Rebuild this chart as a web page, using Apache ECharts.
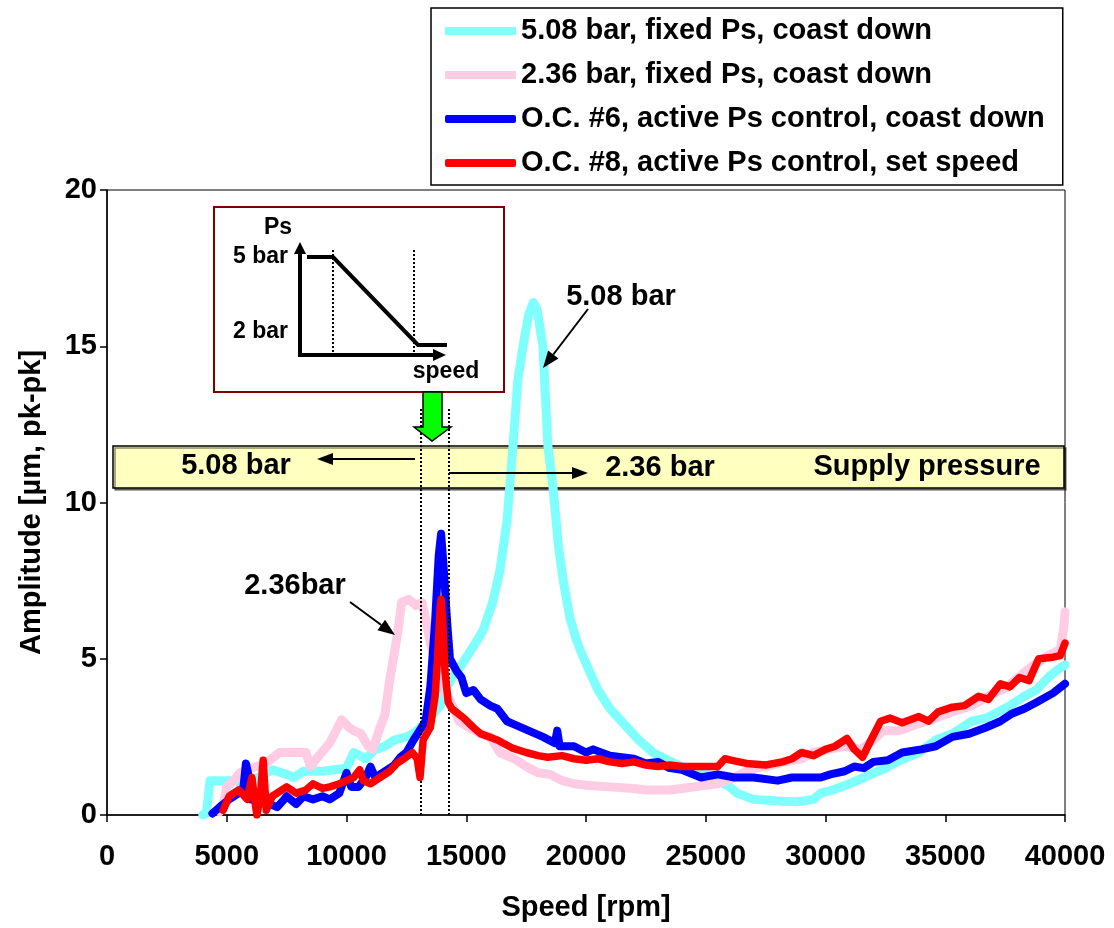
<!DOCTYPE html>
<html>
<head>
<meta charset="utf-8">
<script src="https://cdn.jsdelivr.net/npm/echarts@6/dist/echarts.min.js"></script>
<style>html,body{margin:0;padding:0;background:#fff}#c{width:1114px;height:928px}</style>
</head>
<body>
<div id="c"></div>
<script>
// ---- data (speed in rpm, amplitude in µm pk-pk) ----
const seriesNames = [
  '5.08 bar, fixed Ps, coast down',
  '2.36 bar, fixed Ps, coast down',
  'O.C. #6, active Ps control, coast down',
  'O.C. #8, active Ps control, set speed'
];
const xTicks = [0, 5000, 10000, 15000, 20000, 25000, 30000, 35000, 40000];
const yTicks = [0, 5, 10, 15, 20];

const cyanSpeed = [4000,4150,4300,5500,5650,6000,6300,6900,7500,7800,8200,9000,9500,10000,10300,10800,11200,11600,12000,12500,12800,13100,13300,13600,13900,14200,14500,14800,15300,15700,16100,16400,16700,16950,17150,17370,17600,17800,17950,18200,18410,18620,18850,19050,19330,19600,19800,20200,20500,21000,21600,22200,22800,23700,24500,25100,25500,26000,26300,27000,28000,28800,29500,29800,30300,31000,31600,32500,33100,33900,34600,35300,36100,36700,37700,38300,38800,39300,39600,40000];
const cyanAmp   = [0,0.05,1.1,1.1,0.8,0.9,1.2,1.45,1.3,1.2,1.4,1.4,1.45,1.5,2.0,1.8,2.1,2.2,2.4,2.5,2.6,2.8,3.0,3.2,3.5,4.1,4.5,4.8,5.4,5.9,6.8,7.8,9.4,11.8,13.9,15.0,16.0,16.4,16.2,15.0,11.8,10.5,8.6,7.5,6.3,5.6,5.2,4.5,4.0,3.4,2.9,2.4,2.0,1.65,1.4,1.3,1.1,0.9,0.7,0.5,0.45,0.42,0.5,0.7,0.8,1.0,1.2,1.5,1.75,2.0,2.4,2.6,3.0,3.1,3.5,3.8,4.0,4.4,4.6,4.8];

const pinkSpeed = [4700,4900,5000,5300,5550,6000,6500,6800,7200,8300,8500,8800,9300,9500,9800,10100,10300,10600,10900,11100,11400,11600,11800,12000,12150,12300,12600,12900,13150,13300,13500,13800,14000,14300,14700,15100,15600,16000,16400,17000,17500,18000,18500,19000,19500,20000,21000,22000,22500,23500,24000,25000,25500,26200,26800,27500,28300,29000,29500,30100,30800,31500,32000,32400,33100,33800,34600,35300,36100,36800,37600,38200,38700,39300,39800,39950,40000];
const pinkAmp   = [0.1,0.5,0.9,1.1,1.35,1.5,1.6,1.75,2.0,2.0,1.55,1.85,2.3,2.6,3.05,2.8,2.7,2.6,2.2,2.1,2.8,3.2,4.3,5.2,5.9,6.8,6.9,6.7,6.8,6.3,5.5,4.6,4.1,3.7,3.0,2.8,2.6,2.5,2.0,1.8,1.55,1.35,1.3,1.1,1.0,0.95,0.9,0.85,0.8,0.8,0.85,0.95,1.0,1.2,1.45,1.55,1.7,1.8,2.0,2.1,2.2,2.1,2.4,2.7,2.7,2.9,3.1,3.3,3.5,3.8,4.1,4.5,4.8,5.1,5.3,6.0,6.5];

const blueSpeed = [4400,4700,5100,5500,5700,5800,5900,6000,6500,6800,7100,7400,7500,7900,8200,8600,9000,9300,9700,10000,10200,10500,10800,11000,11200,11600,12000,12250,12500,12800,13050,13300,13500,13700,13850,13950,14050,14200,14320,14600,14800,15000,15300,15600,16000,16300,16700,17000,17600,18200,18700,18800,18900,19500,20000,20300,21000,21500,22000,22500,23000,23500,24000,24800,25500,26200,27000,28000,28600,29300,29800,30200,30800,31200,31600,32000,32600,33200,34000,34600,35300,36000,36700,37300,37800,38300,38800,39500,40000];
const blueAmp   = [0.05,0.25,0.5,0.7,0.9,1.65,1.3,0.5,0.5,0.35,0.25,0.5,0.6,0.35,0.6,0.5,0.6,0.5,0.7,1.35,0.9,0.9,1.2,1.55,1.2,1.4,1.6,1.85,2.0,2.4,2.7,3.0,4.1,6.2,8.3,9.0,8.0,6.2,5.0,4.6,4.4,3.9,4.0,3.7,3.5,3.4,3.0,2.9,2.7,2.5,2.3,2.7,2.2,2.2,2.0,2.1,1.9,1.85,1.8,1.65,1.7,1.5,1.45,1.2,1.3,1.2,1.2,1.1,1.2,1.2,1.2,1.3,1.4,1.55,1.5,1.7,1.75,2.0,2.1,2.2,2.5,2.6,2.8,3.0,3.25,3.4,3.6,3.9,4.2];

const redSpeed = [4850,5100,5500,5850,6050,6200,6260,6400,6520,6650,6900,7500,7900,8300,8600,9000,9300,9700,10000,10300,10550,10700,11000,11400,11800,12100,12400,12750,12950,13070,13200,13500,13700,13800,13900,13950,14020,14110,14250,14400,14900,15300,15600,16300,16900,17500,18000,18400,19000,19500,20000,20500,21000,21500,22000,22500,23000,23500,24000,25000,25500,25800,26100,26700,27500,28200,28600,29000,29500,30000,30400,30900,31200,31550,31900,32300,32700,33200,33900,34300,34700,35300,35800,36400,36800,37300,37700,38100,38500,38900,39500,39800,40000];
const redAmp   = [0.15,0.6,0.8,0.5,1.2,0.3,0,0.6,1.75,0.15,0.6,0.9,0.7,0.8,1.0,0.85,0.9,1.0,1.1,1.2,1.45,1.1,1.0,1.2,1.4,1.65,1.8,2.0,1.8,1.2,2.4,2.8,3.8,5.0,6.5,6.9,6.2,4.6,3.6,3.4,3.1,2.8,2.6,2.4,2.15,2.0,1.9,1.85,1.9,1.8,1.75,1.8,1.7,1.65,1.7,1.6,1.55,1.6,1.55,1.55,1.55,1.8,1.75,1.65,1.6,1.7,1.8,2.0,1.9,2.1,2.2,2.45,2.1,1.85,2.4,3.0,3.1,2.95,3.15,3.0,3.3,3.45,3.5,3.8,3.7,4.2,4.1,4.4,4.3,5.0,5.05,5.1,5.5];

// dotted markers of the Ps-transition speeds
const transitionSpeeds = [13100, 14280];
const transitionTop = 13.05;

function zip(xs, ys) { return xs.map((x, i) => [x, ys[i]]); }

const FONT = '"Liberation Sans", Arial, Helvetica, sans-serif';
const chart = echarts.init(document.getElementById('c'), null, {renderer: 'canvas'});

function arrow(x1, y1, x2, y2, len, half, w) {
  const dx = x2 - x1, dy = y2 - y1, L = Math.sqrt(dx*dx + dy*dy);
  const ux = dx / L, uy = dy / L;
  const bx = x2 - ux*len, by = y2 - uy*len;
  return [
    {type:'line', z:100, shape:{x1:x1, y1:y1, x2:bx, y2:by}, style:{stroke:'#000', lineWidth:w}},
    {type:'polygon', z:100, shape:{points:[[x2,y2],[bx - uy*half, by + ux*half],[bx + uy*half, by - ux*half]]}, style:{fill:'#000'}}
  ];
}
function txt(x, y, s, size, align) {
  return {type:'text', z:101, x:x, y:y, style:{text:s, font:'bold ' + size + 'px ' + FONT, fill:'#000', align:align || 'center', verticalAlign:'middle'}};
}

const graphics = [
  // supply-pressure band
  {type:'rect', z:1, shape:{x:113, y:446, width:951, height:42},
   style:{fill:'#FFFFC0', stroke:'#000', lineWidth:1.5, shadowColor:'rgba(0,0,0,0.45)', shadowOffsetX:2, shadowOffsetY:2}},
  txt(236, 466, '5.08 bar', 29),
  txt(660, 468, '2.36 bar', 29),
  txt(927, 467, 'Supply pressure', 29),
  ...arrow(415, 459, 317, 459, 16, 6, 2),
  ...arrow(449, 473, 588, 473, 16, 6, 2),
  // peak annotations
  txt(621, 297, '5.08 bar', 29),
  ...arrow(588, 309, 543, 368, 17, 6.5, 2),
  txt(295, 586, '2.36bar', 29),
  ...arrow(350, 602, 395, 635, 17, 6.5, 2),
  // inset schematic
  {type:'rect', z:100, shape:{x:214, y:207, width:290, height:185}, style:{fill:'#fff', stroke:'#800000', lineWidth:2}},
  txt(278, 228, 'Ps', 23),
  txt(288, 257, '5 bar', 23, 'right'),
  txt(288, 332, '2 bar', 23, 'right'),
  txt(446, 372, 'speed', 23),
  ...arrow(300, 357, 300, 242, 12, 6, 4),
  ...arrow(298, 355, 446, 355, 13, 6, 4),
  {type:'polyline', z:101, shape:{points:[[307,257],[333,257],[418,345],[447,345]]}, style:{stroke:'#000', lineWidth:4, fill:null}},
  {type:'line', z:101, shape:{x1:333, y1:250, x2:333, y2:355}, style:{stroke:'#000', lineWidth:2, lineDash:[2,2]}},
  {type:'line', z:101, shape:{x1:414, y1:250, x2:414, y2:355}, style:{stroke:'#000', lineWidth:2, lineDash:[2,2]}},
  // green block arrow
  {type:'polygon', z:100, shape:{points:[[423,392],[442,392],[442,427],[451,427],[432,441],[414,427],[423,427]]},
   style:{fill:'#00FF00', stroke:'#000', lineWidth:1.5}}
];

const colors = ['#80FFFF', '#FFCCE3', '#0000FF', '#FF0000'];
const widths = [9, 9, 8, 7.5];
const datas = [zip(cyanSpeed, cyanAmp), zip(pinkSpeed, pinkAmp), zip(blueSpeed, blueAmp), zip(redSpeed, redAmp)];

const series = seriesNames.map((n, i) => ({
  name: n, type: 'line', data: datas[i], symbol: 'none', showSymbol: false,
  lineStyle: {color: colors[i], width: widths[i], join: 'round', cap: 'round'}, itemStyle: {color: colors[i]},
  z: 2 + i, silent: true
}));
series[3].markLine = {
  silent: true, symbol: 'none', animation: false,
  label: {show: false},
  lineStyle: {color: '#000', width: 2, type: [2, 2]},
  data: transitionSpeeds.map(s => [{coord: [s, 0]}, {coord: [s, transitionTop]}])
};

chart.setOption({
  animation: false,
  backgroundColor: '#fff',
  textStyle: {fontFamily: FONT},
  grid: {left: 107, right: 49, top: 190, bottom: 113, show: true, borderColor: '#000', borderWidth: 1, backgroundColor: 'transparent'},
  legend: {
    orient: 'vertical', left: 431, top: 8,
    padding: [8, 18, 7, 14], itemGap: 14, itemWidth: 71, itemHeight: 8,
    backgroundColor: '#fff', borderColor: '#000', borderWidth: 1.5, borderRadius: 0,
    selectedMode: false,
    textStyle: {fontFamily: FONT, fontWeight: 'bold', fontSize: 29, color: '#000', lineHeight: 30},
    data: seriesNames.map((n, i) => ({name: n, icon: i < 2 ? 'rect' : 'roundRect'}))
  },
  xAxis: {
    type: 'value', min: xTicks[0], max: xTicks[xTicks.length - 1], interval: xTicks[1] - xTicks[0],
    name: 'Speed [rpm]', nameLocation: 'middle', nameGap: 78,
    nameTextStyle: {fontFamily: FONT, fontWeight: 'bold', fontSize: 29, color: '#000'},
    axisLine: {lineStyle: {color: '#000', width: 1.5}},
    axisTick: {show: true, inside: false, length: 7, lineStyle: {color: '#000', width: 1.5}},
    axisLabel: {margin: 27, fontFamily: FONT, fontWeight: 'bold', fontSize: 29, color: '#000',
                formatter: v => String(v)},
    splitLine: {show: false}
  },
  yAxis: {
    type: 'value', min: yTicks[0], max: yTicks[yTicks.length - 1], interval: yTicks[1] - yTicks[0],
    name: 'Amplitude [µm, pk-pk]', nameLocation: 'middle', nameGap: 61, nameRotate: 90,
    nameTextStyle: {fontFamily: FONT, fontWeight: 'bold', fontSize: 29, color: '#000'},
    axisLine: {show: true, lineStyle: {color: '#000', width: 1.5}},
    axisTick: {show: true, inside: false, length: 7, lineStyle: {color: '#000', width: 1.5}},
    axisLabel: {margin: 10, fontFamily: FONT, fontWeight: 'bold', fontSize: 29, color: '#000',
                formatter: v => String(v)},
    splitLine: {show: false}
  },
  graphic: graphics,
  series: series
});
</script>
</body>
</html>
